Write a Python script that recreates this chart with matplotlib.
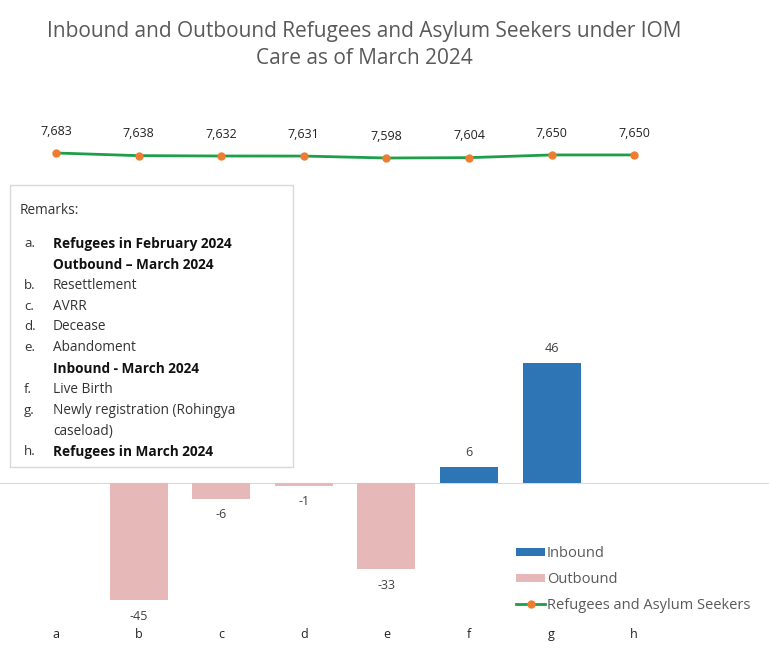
import numpy as np
import matplotlib.pyplot as plt
from matplotlib.patches import FancyBboxPatch
from matplotlib.lines import Line2D
from matplotlib.patches import Patch

categories = ["a", "b", "c", "d", "e", "f", "g", "h"]
outbound = [0, -45, -6, -1, -33, 0, 0, 0]
inbound = [0, 0, 0, 0, 0, 6, 46, 0]
refugees = [7683, 7638, 7632, 7631, 7598, 7604, 7650, 7650]

remarks = [
    ("", "Remarks:", False),
    ("a.", "Refugees in February 2024", True),
    ("", "Outbound \u2013 March 2024", True),
    ("b.", "Resettlement", False),
    ("c.", "AVRR", False),
    ("d.", "Decease", False),
    ("e.", "Abandoment", False),
    ("", "Inbound - March 2024", True),
    ("f.", "Live Birth", False),
    ("g.", "Newly registration (Rohingya", False),
    ("", "caseload)", False),
    ("h.", "Refugees in March 2024", True),
]

W, H = 769, 666
plt.rcParams["font.family"] = ["Open Sans", "DejaVu Sans"]
grey = "#404040"
blue = "#2E75B6"
pink = "#E6B9B8"
green = "#1E9E4A"
orange = "#ED7D31"


def fy(py):
    return 1 - py / H


fig = plt.figure(figsize=(W / 100, H / 100), dpi=100)

# axes from pixel y=90 to 620, full width; zero at y=483, 2.6 px per unit
ax = fig.add_axes([0, fy(620), 1, (620 - 90) / H])
x = np.arange(len(categories))
ax.set_xlim((0 - 56) / 82.6, (W - 56) / 82.6)
ax.set_ylim(-(620 - 483) / 2.6, (483 - 90) / 2.6)

ob = np.array(outbound)
ib = np.array(inbound)
ax.bar(x[ob != 0], ob[ob != 0], width=0.7, color=pink, zorder=2)
ax.bar(x[ib != 0], ib[ib != 0], width=0.7, color=blue, zorder=2)
ax.axhline(0, color="#d9d9d9", lw=0.8, zorder=1)

for xi, v in zip(x, outbound):
    if v != 0:
        ax.annotate(f"{v}", (xi, v), xytext=(0, -7), textcoords="offset points",
                    ha="center", va="top", fontsize=9, color=grey)
for xi, v in zip(x, inbound):
    if v != 0:
        ax.annotate(f"{v}", (xi, v), xytext=(0, 6), textcoords="offset points",
                    ha="center", va="bottom", fontsize=9, color=grey)

ax.set_xticks(x)
ax.set_xticklabels(categories, fontsize=9, color="#222222")
ax.tick_params(axis="x", length=0, pad=6)
ax.set_yticks([])
for s in ax.spines.values():
    s.set_visible(False)

# secondary axis for the line: 7683 at y=153 px, 17 units per px
ax2 = ax.twinx()
ax2.set_ylim(7683 - (620 - 153) * 17, 7683 + (153 - 90) * 17)
ax2.plot(x, refugees, color=green, lw=2, marker="o", ms=5,
         mfc=orange, mec=orange, zorder=3)
for xi, v in zip(x, refugees):
    ax2.annotate(f"{v:,}", (xi, v), xytext=(0, 11), textcoords="offset points",
                 ha="center", va="bottom", fontsize=9, color="#222222")
ax2.set_yticks([])
for s in ax2.spines.values():
    s.set_visible(False)

# remarks box
box = FancyBboxPatch((10 / W, fy(467)), 283 / W, (467 - 185) / H,
                     boxstyle="square,pad=0", transform=fig.transFigure,
                     facecolor="white", edgecolor="#d9d9d9", lw=1, zorder=5)
fig.patches.append(box)
for i, (lab, txt, bold) in enumerate(remarks):
    py = 211 + i * 20.8 + (12 if i > 0 else 0)
    if lab:
        fig.text(24 / W, fy(py), lab, fontsize=9.5, color="#333333",
                 va="center", zorder=6)
    xx = 20 / W if i == 0 else 53 / W
    fig.text(xx, fy(py), txt, fontsize=9.8, color="#111111" if bold else "#333333",
             fontweight="bold" if bold else "normal", va="center", zorder=6)

# legend
handles = [
    Patch(facecolor=blue, label="Inbound"),
    Patch(facecolor=pink, label="Outbound"),
    Line2D([0], [0], color=green, lw=2, marker="o", ms=5, mfc=orange,
           mec=orange, label="Refugees and Asylum Seekers"),
]
fig.legend(handles=handles, loc="upper left", bbox_to_anchor=(503 / W, fy(533)),
           frameon=False, fontsize=10.5, labelcolor="#595959", handlelength=2.0,
           handleheight=0.5, handletextpad=0.1, labelspacing=0.75)

fig.text(364 / W, fy(31), "Inbound and Outbound Refugees and Asylum Seekers under IOM",
         ha="center", va="center", fontsize=15, color="#595959")
fig.text(364 / W, fy(58), "Care as of March 2024",
         ha="center", va="center", fontsize=15, color="#595959")

fig.savefig("out.png", dpi=100)
